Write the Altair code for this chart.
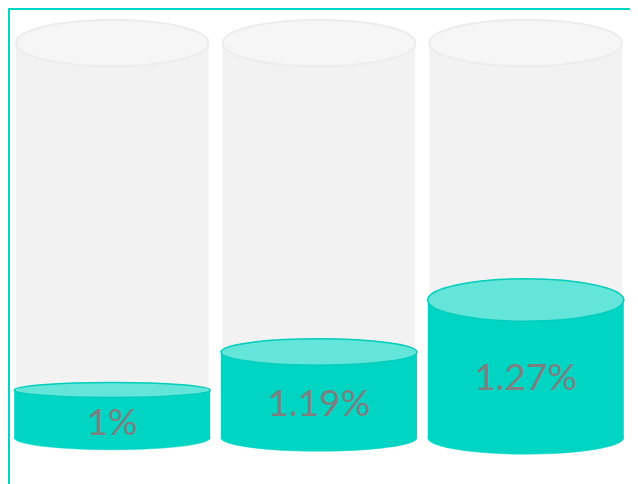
import altair as alt
import pandas as pd

# ---- data ----
categories = ["A", "B", "C"]
values = [1.0, 1.19, 1.27]
labels = ["1%", "1.19%", "1.27%"]
tank_max = 2.0

# ---- layout / style constants ----
W, H = 622, 476
PI, PO = 0.068, 0.038
step = W / (len(categories) - PI + 2 * PO)
bw = step * (1 - PI)
teal_w = bw * 1.017

TEAL = "#00D5C3"
TEAL_LIGHT = "#64E5D9"
TEAL_EDGE = "#00CDBB"
GREY = "#F2F2F2"
GREY_TOP = "#F6F6F6"
GREY_EDGE = "#ECECEC"
TEXT = "#7F7F7F"

# piecewise y scale reproducing the infographic's fill levels
y_domain = [0] + values + [tank_max]
y_range = [430, 382, 344, 292, 35]


def ellipse(r):
    k = 0.5523
    return (f"M-1,0C-1,{-k*r:.4f} {-k},{-r:.4f} 0,{-r:.4f}"
            f"C{k},{-r:.4f} 1,{-k*r:.4f} 1,0"
            f"C1,{k*r:.4f} {k},{r:.4f} 0,{r:.4f}"
            f"C{-k},{r:.4f} -1,{k*r:.4f} -1,0Z")


teal_top_ratios = [0.0765, 0.135, 0.217]
teal_bottom_ratios = [0.12, 0.135, 0.165]
grey_ratio = 0.242

df = pd.DataFrame({
    "cat": categories,
    "pct": values,
    "label": labels,
    "cap": [tank_max] * len(categories),
    "zero": [0.0] * len(categories),
})

x = alt.X("cat:N", scale=alt.Scale(domain=categories, paddingInner=PI, paddingOuter=PO), axis=None)
yscale = alt.Scale(domain=y_domain, range=y_range)

base = alt.Chart(df)

grey_body = base.mark_bar(color=GREY, width=bw).encode(
    x=x, y=alt.Y("cap:Q", scale=yscale, axis=None), y2="zero:Q")
grey_top = base.mark_point(shape=ellipse(grey_ratio), size=bw ** 2, filled=True,
                           fill=GREY_TOP, stroke=GREY_EDGE, strokeWidth=2, opacity=1).encode(
    x=x, y=alt.Y("cap:Q", scale=yscale, axis=None))

teal_bottom = base.mark_point(size=teal_w ** 2, filled=True, fill=TEAL, stroke=TEAL,
                              strokeWidth=0.5, opacity=1).encode(
    x=x, y=alt.Y("zero:Q", scale=yscale, axis=None),
    shape=alt.Shape("cat:N", scale=alt.Scale(domain=categories,
                                             range=[ellipse(r) for r in teal_bottom_ratios]), legend=None))
teal_body = base.mark_bar(color=TEAL, width=teal_w).encode(
    x=x, y=alt.Y("pct:Q", scale=yscale, axis=None), y2="zero:Q")
teal_top = base.mark_point(size=teal_w ** 2, filled=True, fill=TEAL_LIGHT, stroke=TEAL_EDGE,
                           strokeWidth=1.5, opacity=1).encode(
    x=x, y=alt.Y("pct:Q", scale=yscale, axis=None),
    shape=alt.Shape("cat:N", scale=alt.Scale(domain=categories,
                                             range=[ellipse(r) for r in teal_top_ratios]), legend=None))

text = base.mark_text(font="Lato", fontSize=37, color=TEXT, baseline="middle",
                      dy=alt.expr("(scale('y', 0) - scale('y', datum.pct)) / 2 + 10")).encode(
    x=x, y=alt.Y("pct:Q", scale=yscale, axis=None), text="label:N")

frame = alt.Chart(pd.DataFrame({"k": [0]}))
top_line = frame.mark_rule(color=TEAL, strokeWidth=2).encode(
    x=alt.value(0), x2=alt.value(W), y=alt.value(1))
left_line = frame.mark_rule(color=TEAL, strokeWidth=2).encode(
    x=alt.value(1), y=alt.value(0), y2=alt.value(H))

chart = alt.layer(grey_body, grey_top, teal_bottom, teal_body, teal_top, text, top_line, left_line).resolve_scale(
    shape="independent"
).properties(
    width=W, height=H, padding=0, autosize=alt.AutoSizeParams(type="none")
).configure_view(stroke=None)

chart.save("out.html", embed_options={"renderer": "svg", "actions": False})
